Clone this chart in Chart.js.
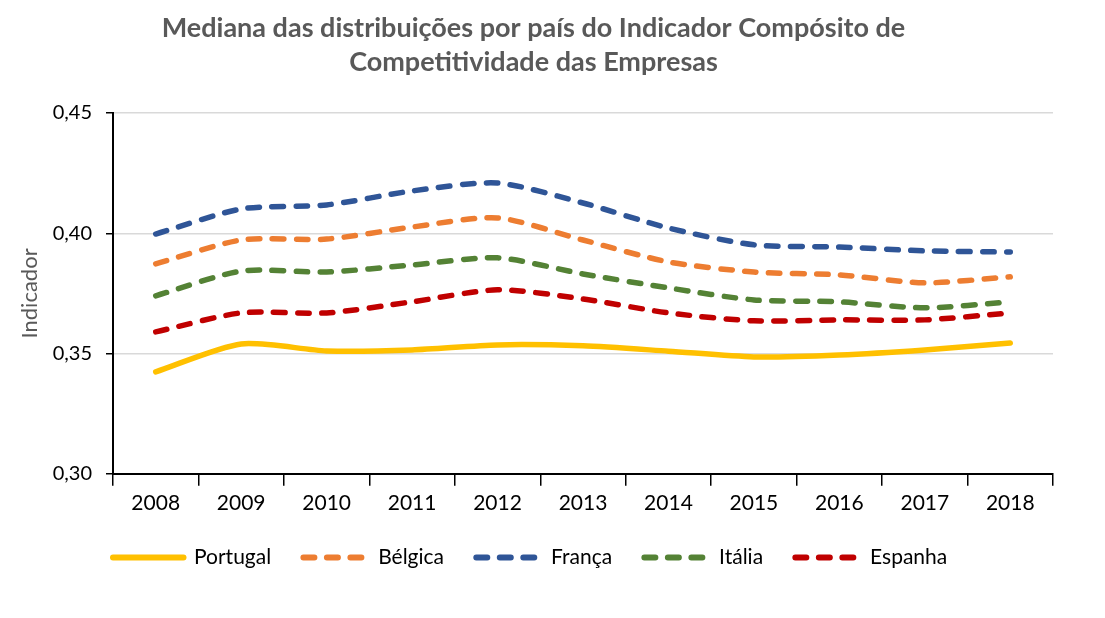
<!DOCTYPE html>
<html><head><meta charset="utf-8">
<script src="https://cdn.jsdelivr.net/npm/chart.js@4/dist/chart.umd.min.js"></script>
<style>html,body{margin:0;padding:0;background:#fff;}#wrap{width:1105px;height:618px;}</style>
</head><body><div id="wrap"><canvas id="c" width="1105" height="618"></canvas></div>
<script>
const years = ['2008','2009','2010','2011','2012','2013','2014','2015','2016','2017','2018'];
const portugal = [0.3424,0.3540,0.3511,0.3515,0.3536,0.3532,0.3510,0.3486,0.3494,0.3515,0.3544];
const belgica  = [0.3873,0.3972,0.3976,0.4026,0.4064,0.3972,0.3881,0.3839,0.3827,0.3794,0.3819];
const franca   = [0.3997,0.4101,0.4118,0.4176,0.4209,0.4126,0.4022,0.3952,0.3943,0.3927,0.3922];
const italia   = [0.3740,0.3843,0.3839,0.3868,0.3898,0.3831,0.3773,0.3723,0.3715,0.3690,0.3715];
const espanha  = [0.3590,0.3669,0.3669,0.3715,0.3765,0.3727,0.3669,0.3636,0.3640,0.3640,0.3669];
const yTicks = [0.30,0.35,0.40,0.45];

const FONT = 'Lato, "Open Sans", sans-serif';
const dash = [11.5,12.5];
function ds(label, data, color, dashed){
  return {label, data, borderColor:color, backgroundColor:color, borderWidth:5.5,
    borderDash: dashed?dash:[], borderCapStyle:'round', borderJoinStyle:'round',
    pointRadius:0, pointHoverRadius:0, tension:0.25, fill:false};
}
const shiftLegend = {id:'shiftLegend', afterLayout(chart){ chart.legend.left += 73; }};
new Chart(document.getElementById('c'), {
  type:'line',
  plugins:[shiftLegend],
  data:{labels:years, datasets:[
    ds('Portugal', portugal, '#FFC000', false),
    ds('Bélgica', belgica, '#ED7D31', true),
    ds('França', franca, '#2F5597', true),
    ds('Itália', italia, '#548235', true),
    ds('Espanha', espanha, '#C00000', true)
  ]},
  options:{
    responsive:false, animation:false, devicePixelRatio:1,
    layout:{padding:{left:14,right:52,top:10,bottom:40}},
    plugins:{
      title:{display:true, text:['Mediana das distribuições por país do Indicador Compósito de','Competitividade das Empresas'],
        color:'#595959', font:{family:FONT, size:27, weight:'bold', lineHeight:1.26}, padding:{top:1,bottom:34}},
      legend:{position:'bottom', align:'start',
        labels:{usePointStyle:true, pointStyleWidth:70.5, boxHeight:5, color:'#000', padding:26,
          font:{family:FONT, size:21},
          generateLabels(chart){
            return chart.data.datasets.map((d,i)=>({text:d.label, fillStyle:d.borderColor, strokeStyle:d.borderColor,
              lineWidth:6, lineDash: d.borderDash.length?[11,12.5]:[], lineDashOffset:17.25, lineCap:'round',
              pointStyle:'line', datasetIndex:i, hidden:false}));
          }}},
      tooltip:{enabled:false}
    },
    scales:{
      x:{offset:true,
        grid:{offset:true, drawOnChartArea:false, drawTicks:true, tickLength:12, color:'#000', lineWidth:1.5},
        border:{color:'#000', width:2},
        ticks:{color:'#000', font:{family:FONT, size:21}, padding:5, maxRotation:0}},
      y:{min:0.30, max:0.45,
        afterBuildTicks(axis){ axis.ticks = yTicks.map(v=>({value:v})); },
        afterFit(axis){ axis.width = 99; },
        grid:{color:'#D9D9D9', lineWidth:1.5, tickLength:7, drawTicks:true, tickColor:'#000'},
        border:{color:'#000', width:2},
        title:{display:true, text:'Indicador', color:'#595959', font:{family:FONT, size:22}, padding:{top:3,bottom:0}},
        ticks:{color:'#000', font:{family:FONT, size:20}, padding:14,
          callback:(v)=>Number(v).toFixed(2).replace('.',',')}}
    }
  }
});
</script></body></html>
